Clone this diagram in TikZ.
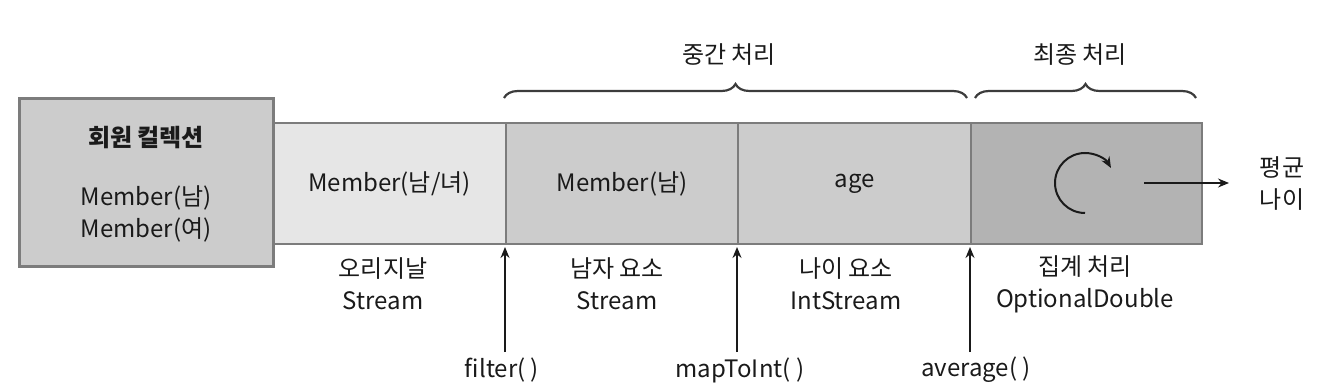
\documentclass[tikz,border=0pt]{standalone}
\usepackage{fontspec}
\setmainfont{Noto Sans CJK KR}
\usetikzlibrary{arrows.meta,decorations.pathreplacing}
\definecolor{txt}{HTML}{1A1A1A}
\definecolor{edge}{HTML}{7C7C7C}
\definecolor{fillA}{HTML}{E6E6E6}
\definecolor{fillB}{HTML}{CCCCCC}
\definecolor{fillC}{HTML}{B3B3B3}
\tikzset{
  lbl/.style={text=txt, font=\fontsize{24}{32}\selectfont, align=center, inner sep=0pt},
  seg/.style={draw=edge, line width=2pt, minimum height=121pt, inner sep=0pt, anchor=north west, lbl},
  arr/.style={draw=txt, line width=1.6pt, -{Stealth[length=11pt,width=9pt]}},
  brc/.style={draw=txt!85, line width=2.2pt, decorate, decoration={brace, amplitude=14pt}},
}
\begin{document}
\begin{tikzpicture}[x=1pt, y=-1pt]
\useasboundingbox (0,0) rectangle (1319,390);
% strip segments
\node[seg, fill=fillA, minimum width=233pt] (s1) at (272,122) {Member(남/녀)};
\node[seg, fill=fillB, minimum width=232pt] (s2) at (505,122) {Member(남)};
\node[seg, fill=fillB, minimum width=233pt] (s3) at (737,122) {age};
\node[seg, fill=fillC, minimum width=231pt] (s4) at (970,122) {};
% collection box
\node[draw=edge, line width=3pt, fill=fillB, minimum width=254pt, minimum height=168pt, anchor=north west, inner sep=0pt] (col) at (18,97) {};
\node[lbl, font=\fontsize{24}{32}\bfseries\selectfont] (colt) at (146,138) {회원 컬렉션};
\node[lbl] (colm) at (146,214) {Member(남)\\Member(여)};
% braces
\coordinate (b1a) at (504,98);
\coordinate (b1b) at (967,98);
\coordinate (b2a) at (975,98);
\coordinate (b2b) at (1196,98);
\draw[brc] (b1a) -- (b1b);
\draw[brc] (b2a) -- (b2b);
\node[lbl] (mid) at (729,55) {중간 처리};
\node[lbl] (fin) at (1080,55) {최종 처리};
% labels under the strip
\node[lbl] (l1) at (383,284) {오리지날\\Stream};
\node[lbl] (l2) at (617,284) {남자 요소\\Stream};
\node[lbl] (l3) at (846,284) {나이 요소\\IntStream};
\node[lbl] (l4) at (1085,284) {집계 처리\\OptionalDouble};
% operation arrows
\node[lbl] (f) at (502,370) {filter( )};
\node[lbl] (m) at (740,370) {mapToInt( )};
\node[lbl] (a) at (976,370) {average( )};
\coordinate (fa) at (505,352);
\coordinate (ma) at (737,352);
\coordinate (aa) at (970,352);
\coordinate (ft) at (505,247);
\coordinate (mt) at (737,247);
\coordinate (at) at (970,247);
\draw[arr] (fa) -- (ft);
\draw[arr] (ma) -- (mt);
\draw[arr] (aa) -- (at);
% circular arrow
\coordinate (cs) at (1085,213);
\draw[arr, line width=2pt] (cs) arc[start angle=90, end angle=330, radius=30];
% output
\coordinate (oa) at (1144,183);
\coordinate (ob) at (1229,183);
\node[lbl] (out) at (1282,184) {평균\\나이};
\draw[arr] (oa) -- (ob);
\end{tikzpicture}
\end{document}
